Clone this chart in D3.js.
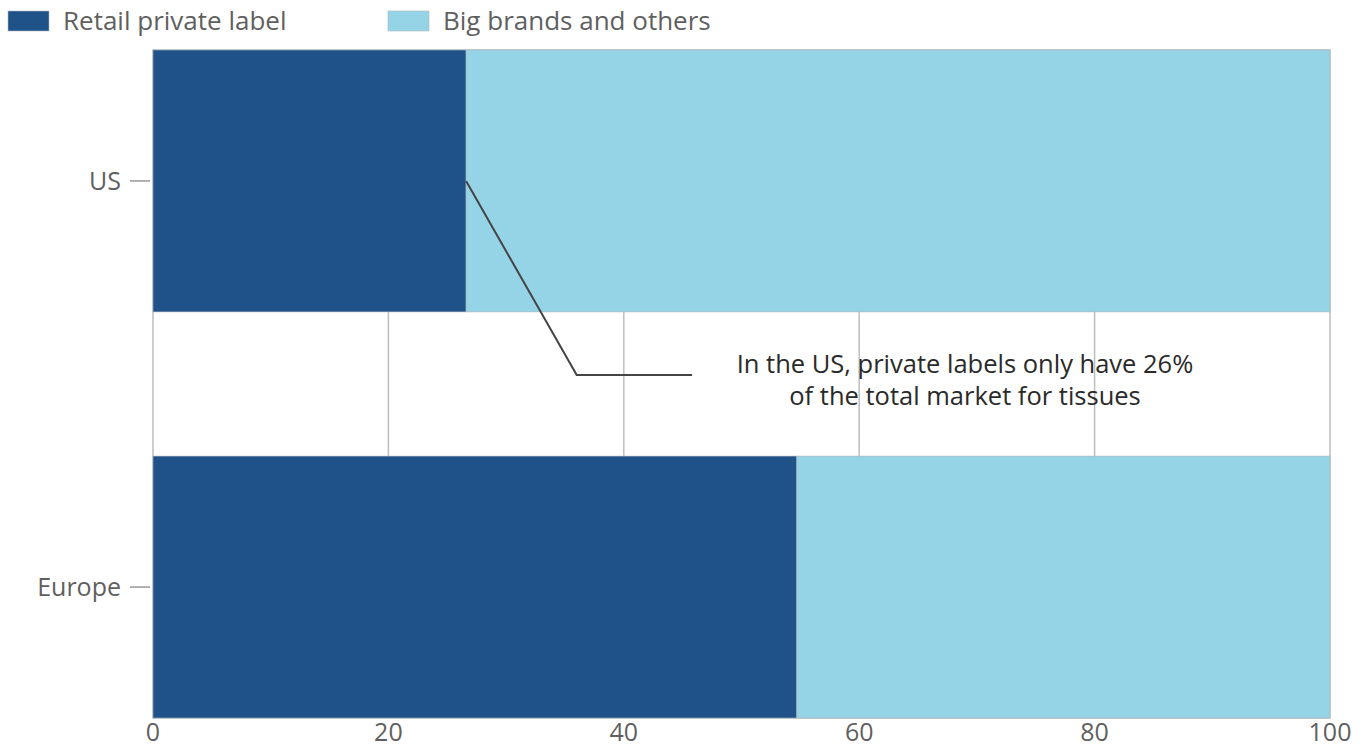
<!DOCTYPE html>
<html><head><meta charset="utf-8">
<script src="https://cdn.jsdelivr.net/npm/d3@7"></script>
<style>html,body{margin:0;padding:0;background:#fff;}svg{display:block;font-family:"Open Sans","Noto Sans",sans-serif;}</style>
</head><body>
<svg id="c" width="1366" height="749"></svg>
<script>
const categories = ["US", "Europe"];
const seriesNames = ["Retail private label", "Big brands and others"];
const privateLabel = [26.6, 54.7];
const bigBrands = [73.4, 45.3];
const xTicks = [0, 20, 40, 60, 80, 100];
const annotationLines = ["In the US, private labels only have 26%", "of the total market for tissues"];
const colors = ["#20528a", "#95d3e6"];

const svg = d3.select("#c");
const m = {left: 153, right: 1330, top: 50, bottom: 718};
const x = d3.scaleLinear().domain([0, 100]).range([m.left, m.right]);
const y = d3.scaleBand().domain(categories).range([m.top, m.bottom]).paddingInner(0.355).paddingOuter(0);

// gridlines
svg.append("g").selectAll("line").data(xTicks.slice(1, -1)).join("line")
  .attr("x1", d => x(d)).attr("x2", d => x(d)).attr("y1", m.top).attr("y2", m.bottom)
  .attr("stroke", "#bdbdbd").attr("stroke-width", 1.5);

// plot border
svg.append("rect").attr("x", m.left).attr("y", m.top).attr("width", m.right - m.left).attr("height", m.bottom - m.top)
  .attr("fill", "none").attr("stroke", "#bdbdbd").attr("stroke-width", 1.5);

const stackData = categories.map((c, i) => ({cat: c, a: privateLabel[i], b: bigBrands[i]}));
const stack = d3.stack().keys(["a", "b"])(stackData);

svg.append("g").selectAll("g").data(stack).join("g").attr("fill", (d, i) => colors[i])
  .selectAll("rect").data(d => d).join("rect")
  .attr("x", d => x(d[0])).attr("width", d => x(d[1]) - x(d[0]))
  .attr("y", d => y(d.data.cat)).attr("height", y.bandwidth())
  .attr("stroke", "#a9b4ba").attr("stroke-width", 0.6);

// y axis ticks & labels
const ya = svg.append("g");
categories.forEach(c => {
  const cy = y(c) + y.bandwidth() / 2;
  ya.append("line").attr("x1", 130).attr("x2", 150).attr("y1", cy).attr("y2", cy).attr("stroke", "#999").attr("stroke-width", 1.5);
  ya.append("text").attr("x", 121).attr("y", cy).attr("dy", "0.35em").attr("text-anchor", "end")
    .attr("font-size", 25).attr("fill", "#5f5f5f").text(c);
});

// x axis labels
svg.append("g").selectAll("text").data(xTicks).join("text")
  .attr("x", d => x(d)).attr("y", 741).attr("text-anchor", "middle")
  .attr("font-size", 25).attr("fill", "#5f5f5f").text(d => d);

// legend
const lg = svg.append("g");
const legX = [8, 388];
seriesNames.forEach((s, i) => {
  lg.append("rect").attr("x", legX[i]).attr("y", 11).attr("width", 41).attr("height", 20).attr("fill", colors[i])
    .attr("stroke", "#b0b8bd").attr("stroke-width", 0.6);
  lg.append("text").attr("x", legX[i] + 55).attr("y", 21).attr("dy", "0.35em").attr("font-size", 26).attr("fill", "#5f5f5f").text(s);
});

// annotation
const usEnd = x(privateLabel[0]);
const usMid = y("US") + y.bandwidth() / 2;
svg.append("path").attr("d", `M${usEnd},${usMid} L${x(36)},375 L${x(45.8)},375`)
  .attr("fill", "none").attr("stroke", "#444").attr("stroke-width", 2);
svg.append("text").attr("x", 965).attr("y", 364).attr("text-anchor", "middle").attr("font-size", 25.5).attr("fill", "#2a2a2a")
  .selectAll("tspan").data(annotationLines).join("tspan").attr("x", 965).attr("dy", (d, i) => i === 0 ? "0.35em" : "1.25em").text(d => d);
</script>
</body></html>
